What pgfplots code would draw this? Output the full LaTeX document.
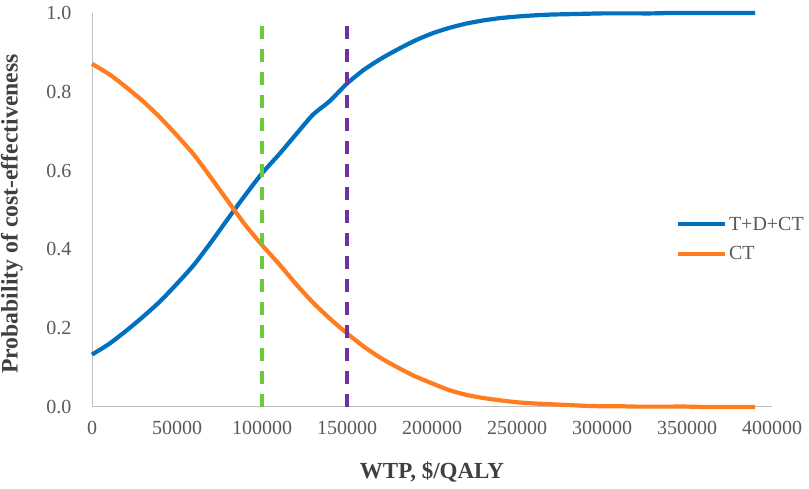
\documentclass[border=0pt]{standalone}
\usepackage{pgfplots}
\pgfplotsset{compat=1.18}
\usepackage{fontspec}
\setmainfont{Liberation Serif}
\definecolor{cblue}{HTML}{0070C0}
\definecolor{corange}{HTML}{FF7C1F}
\definecolor{cgreen}{HTML}{6CCB3A}
\definecolor{cpurple}{HTML}{7030A0}
\definecolor{tickgray}{HTML}{595959}
\definecolor{labgray}{HTML}{404040}
\definecolor{axgray}{HTML}{BFBFBF}
\begin{document}
\begin{tikzpicture}
\path[use as bounding box] (0,0) rectangle (809bp,489bp);
\begin{axis}[
  at={(92bp,82bp)}, anchor=south west,
  scale only axis, width=680bp, height=394bp,
  xmin=0, xmax=400000, ymin=0, ymax=1,
  axis x line*=bottom, axis y line*=left,
  axis line style={draw=axgray, line width=1bp, -},
  major tick length=0pt,
  xtick={0,50000,100000,150000,200000,250000,300000,350000,400000},
  ytick={0,0.2,0.4,0.6,0.8,1.0},
  scaled x ticks=false, scaled y ticks=false,
  /pgf/number format/assume math mode=true,
  xticklabel style={/pgf/number format/fixed, /pgf/number format/precision=0, /pgf/number format/1000 sep={}, font=\fontsize{20bp}{24bp}\selectfont, text=tickgray, yshift=-11bp},
  yticklabel style={/pgf/number format/fixed, /pgf/number format/fixed zerofill, /pgf/number format/precision=1, font=\fontsize{20bp}{24bp}\selectfont, text=tickgray, xshift=-17bp},
  xlabel={WTP, \$/QALY},
  ylabel={Probability of cost-effectiveness},
  xlabel style={at={(axis description cs:0.5,-0.165)}, anchor=center, font=\bfseries\fontsize{23bp}{27bp}\selectfont, text=labgray},
  ylabel style={at={(axis description cs:-0.118,0.49)}, anchor=center, font=\bfseries\fontsize{23.7bp}{27bp}\selectfont, text=labgray},
  legend style={at={(axis description cs:0.859,0.426)}, anchor=west, draw=none, fill=none, inner sep=0pt, row sep=12bp,
    font=\fontsize{20bp}{24bp}\selectfont, text=tickgray, nodes={inner sep=1.5bp}},
  legend cell align=left,
  legend image code/.code={\draw[#1] (0bp,0bp) -- (47bp,0bp);},
  clip=false,
]
\addplot[cblue, line width=4.2bp, smooth, tension=0.4] coordinates {
(0,0.133) (10000,0.160) (20000,0.193) (30000,0.229) (40000,0.268) (50000,0.313)
(60000,0.361) (70000,0.418) (80000,0.478) (90000,0.537) (100000,0.593) (110000,0.641)
(120000,0.692) (130000,0.742) (140000,0.777) (150000,0.821) (160000,0.856) (170000,0.884)
(180000,0.908) (190000,0.930) (200000,0.948) (210000,0.962) (220000,0.973) (230000,0.981)
(240000,0.987) (250000,0.991) (260000,0.994) (270000,0.996) (280000,0.997) (290000,0.998)
(300000,0.999) (310000,0.999) (320000,0.999) (330000,0.999) (340000,1.0) (350000,1.0)
(360000,1.0) (370000,1.0) (380000,1.0) (390000,1.0)
};
\addlegendentry{T+D+CT}
\addplot[corange, line width=4.2bp, smooth, tension=0.4] coordinates {
(0,0.871) (10000,0.845) (20000,0.812) (30000,0.776) (40000,0.735) (50000,0.689)
(60000,0.640) (70000,0.582) (80000,0.522) (90000,0.463) (100000,0.411) (110000,0.363)
(120000,0.312) (130000,0.265) (140000,0.224) (150000,0.187) (160000,0.153) (170000,0.124)
(180000,0.100) (190000,0.078) (200000,0.060) (210000,0.043) (220000,0.031) (230000,0.023)
(240000,0.017) (250000,0.012) (260000,0.009) (270000,0.007) (280000,0.005) (290000,0.003)
(300000,0.002) (310000,0.002) (320000,0.001) (330000,0.001) (340000,0.001) (350000,0.001)
(360000,0.0) (370000,0.0) (380000,0.0) (390000,0.0)
};
\addlegendentry{CT}
\addplot[cgreen, line width=3.4bp, dash pattern=on 13bp off 10bp, forget plot] coordinates {(100000,0) (100000,0.985)};
\addplot[cpurple, line width=3.4bp, dash pattern=on 13bp off 10bp, forget plot] coordinates {(150000,0) (150000,0.985)};
\end{axis}
\end{tikzpicture}
\end{document}
